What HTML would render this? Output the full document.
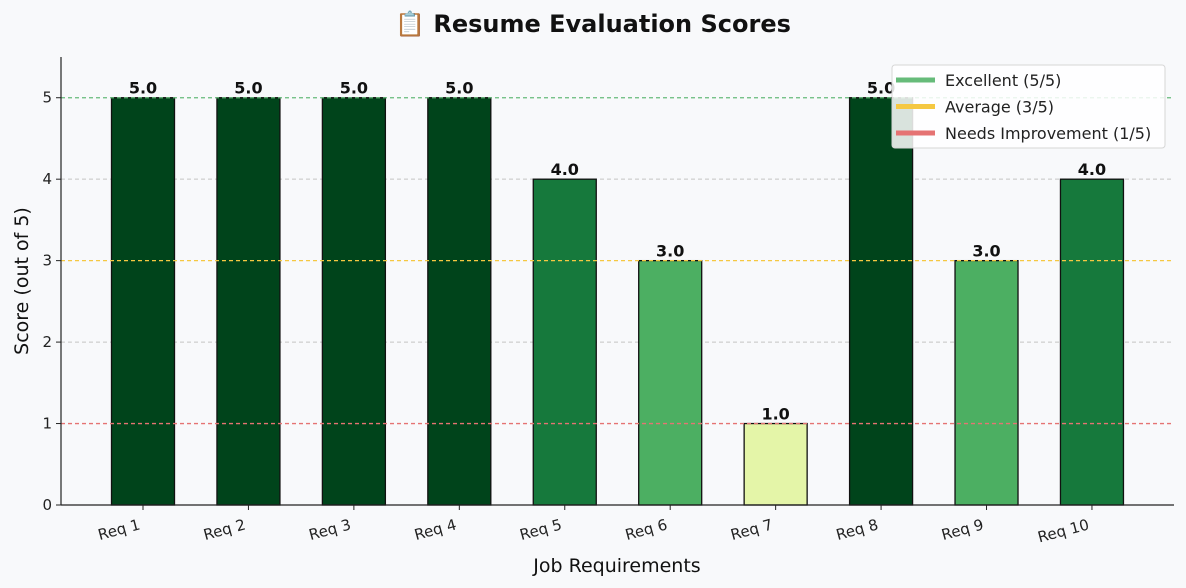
<!DOCTYPE html>
<html><head><meta charset="utf-8"><style>
html,body{margin:0;padding:0;overflow:hidden;width:1186px;height:588px;background:#f8f9fb;}
svg{display:block;}
svg text{font-family:"DejaVu Sans","Liberation Sans",sans-serif;}
</style></head><body>
<svg id="c" width="1186" height="588" xmlns="http://www.w3.org/2000/svg"></svg>
<script>
const categories=["Req 1","Req 2","Req 3","Req 4","Req 5","Req 6","Req 7","Req 8","Req 9","Req 10"];
const scores=[5,5,5,5,4,3,1,5,3,4];
const yTicks=[0,1,2,3,4,5];
const refLines=[{v:5,c:"#66bb7a"},{v:3,c:"#f5c842"},{v:1,c:"#e57373"}];
const svg=document.getElementById('c');
const NS="http://www.w3.org/2000/svg";
function el(t,a,txt){const e=document.createElementNS(NS,t);for(const k in a)e.setAttribute(k,a[k]);if(txt!==undefined)e.textContent=txt;svg.appendChild(e);return e;}
const X0=61,X1=1174,Y0=505,YT=57;
const yS=v=>Y0-v*(Y0-YT)/5.5;
const xS=i=>143+i*105.44;
const bw=63;
function color(s){return s>=5?"#00441b":s>=4?"#16793c":s>=3?"#4caf62":s>=2?"#a6d96a":"#e4f5a8";}
let t=el('text',{x:593,y:32,'text-anchor':'middle','font-size':24,'font-weight':'bold',fill:'#111'},'📋 Resume Evaluation Scores');

yTicks.forEach(v=>{if(v==2||v==4){let g=el('line',{x1:X0,x2:X1,y1:yS(v),y2:yS(v),stroke:'#c4c4c4','stroke-dasharray':'4,3'});}});
scores.forEach((s,i)=>{
 let r=el('rect',{x:xS(i)-bw/2,y:yS(s),width:bw,height:Y0-yS(s),fill:color(s),stroke:'#111','stroke-width':1.3});
 
 let l=el('text',{x:xS(i),y:yS(s)-4,'text-anchor':'middle','font-size':16,'font-weight':'bold',fill:'#111'},s.toFixed(1));
 
 let xl=el('text',{x:xS(i)-2,y:Y0+24,'text-anchor':'end','font-size':15,fill:'#222',transform:`rotate(-15 ${xS(i)-2} ${Y0+24})`},categories[i]);
 
 el('line',{x1:xS(i),x2:xS(i),y1:Y0,y2:Y0+5,stroke:'#222'});
});
refLines.forEach(r=>{let l=el('line',{x1:X0,x2:X1,y1:yS(r.v),y2:yS(r.v),stroke:r.c,'stroke-dasharray':'4,3','stroke-width':1.3});});
yTicks.forEach(v=>{el('line',{x1:X0-5,x2:X0,y1:yS(v),y2:yS(v),stroke:'#222'});
 let tl=el('text',{x:X0-9,y:yS(v)+5,'text-anchor':'end','font-size':15,fill:'#222'},v);});
el('line',{x1:X0,x2:X0,y1:YT,y2:Y0,stroke:'#222','stroke-width':1.2});
el('line',{x1:X0,x2:X1,y1:Y0,y2:Y0,stroke:'#222','stroke-width':1.2});
let xt=el('text',{x:617,y:572,'text-anchor':'middle','font-size':19,fill:'#111'},'Job Requirements');
let yt=el('text',{x:28,y:281,'text-anchor':'middle','font-size':19,fill:'#111',transform:'rotate(-90 28 281)'},'Score (out of 5)');
let lg=el('rect',{x:892,y:65,width:273,height:83,rx:3,fill:'#ffffff','fill-opacity':0.85,stroke:'#d6d6d6'});
const legText=["Excellent (5/5)","Average (3/5)","Needs Improvement (1/5)"];
refLines.forEach((r,i)=>{const y=80+i*26.5;
 el('line',{x1:896,x2:935,y1:y,y2:y,stroke:r.c,'stroke-width':5});
 let lt=el('text',{x:945,y:y+6,'font-size':16,fill:'#222'},legText[i]);});
</script>
</body></html>
